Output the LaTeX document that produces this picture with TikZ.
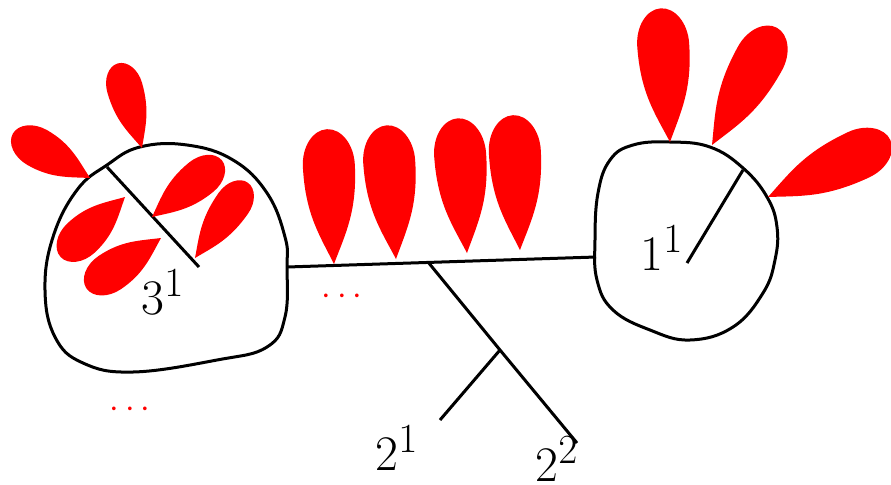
\documentclass[tikz,border=0pt]{standalone}
\usepackage{tikz}

\definecolor{petalred}{HTML}{FF0000}

% teardrop: tip, direction, length, half width
\newcommand{\leaf}[4]{%
  \fill[leaf, shift={(#1)}, rotate=#2]
    (0,0) .. controls ({0.22*#3},{0.5*#4}) and ({0.38*#3},{#4}) .. ({#3-1.4*#4},{#4})
    .. controls ({#3-0.63*#4},{#4}) and ({#3},{0.55*#4}) .. ({#3},0)
    .. controls ({#3},{-0.55*#4}) and ({#3-0.63*#4},{-#4}) .. ({#3-1.4*#4},{-#4})
    .. controls ({0.38*#3},{-#4}) and ({0.22*#3},{-0.5*#4}) .. cycle;}

\begin{document}
\begin{tikzpicture}[
    x=0.5pt, y=-0.5pt,
    wire/.style={line width=1.5pt},
    blob/.style={line width=1.5pt},
    leaf/.style={fill=petalred},
    lbl/.style={font=\Huge, inner sep=0pt},
    dots/.style={text=petalred, font=\fontsize{18.6}{22}\selectfont, anchor=base, inner sep=0pt},
]
\useasboundingbox (0,0) rectangle (891,484);

% Left blob
\draw[blob] plot[smooth cycle, tension=0.7] coordinates {
    (140,147) (187,145) (233,160) (267,193) (285,237) (287,267)
    (285,317) (267,347) (217,360) (133,372) (83,363) (55,337)
    (45,290) (53,237) (77,190) (107,165)};

% Right blob
\draw[blob] plot[smooth cycle, tension=0.7] coordinates {
    (670,142) (710,147) (743,168) (767,197) (777,227) (775,260)
    (763,293) (733,327) (690,340) (650,330) (613,310) (597,280)
    (595,240) (598,193) (610,160) (633,145)};

% Points on the tree
\coordinate (a3) at (107,167);
\coordinate (b3) at (199,267);
\coordinate (l3e) at (287,267);
\coordinate (r1e) at (596,257);
\coordinate (j1) at (428,262);
\coordinate (j2) at (500,350);
\coordinate (e21) at (440,420);
\coordinate (e22) at (577,443);
\coordinate (a1) at (743,170);
\coordinate (b1) at (687,263);

% Edges
\draw[wire] (a3) -- (b3);
\draw[wire] (l3e) -- (r1e);
\draw[wire] (j1) -- (j2) -- (e22);
\draw[wire] (j2) -- (e21);
\draw[wire] (a1) -- (b1);

% Labels
\node[lbl] (n3) at (163,292) {$3^1$};
\node[lbl] (n1) at (662,248) {$1^1$};
\node[lbl] (n21) at (397,448) {$2^1$};
\node[lbl] (n22) at (557,459) {$2^2$};

% Red dots
\node[dots] (dm) at (342,304) {$\cdots$};
\node[dots] (dl) at (130,417) {$\cdots$};

% Left petals
\leaf{142,148}{106}{88}{18}
\leaf{90,178}{150}{89}{20}
\leaf{152,217}{39}{90}{19}
\leaf{195,258}{55}{92}{18}
\leaf{125,197}{223}{88}{20}
\leaf{161,238}{214}{90}{20}

% Middle petals
\leaf{334,264}{93}{135}{26}
\leaf{396,259}{94}{134}{26}
\leaf{467,253}{94}{135}{26}
\leaf{520,250}{93}{135}{26}

% Right petals
\leaf{670,142}{94}{134}{26}
\leaf{712,145}{61}{134}{25}
\leaf{768,197}{25}{135}{25}

\end{tikzpicture}
\end{document}
